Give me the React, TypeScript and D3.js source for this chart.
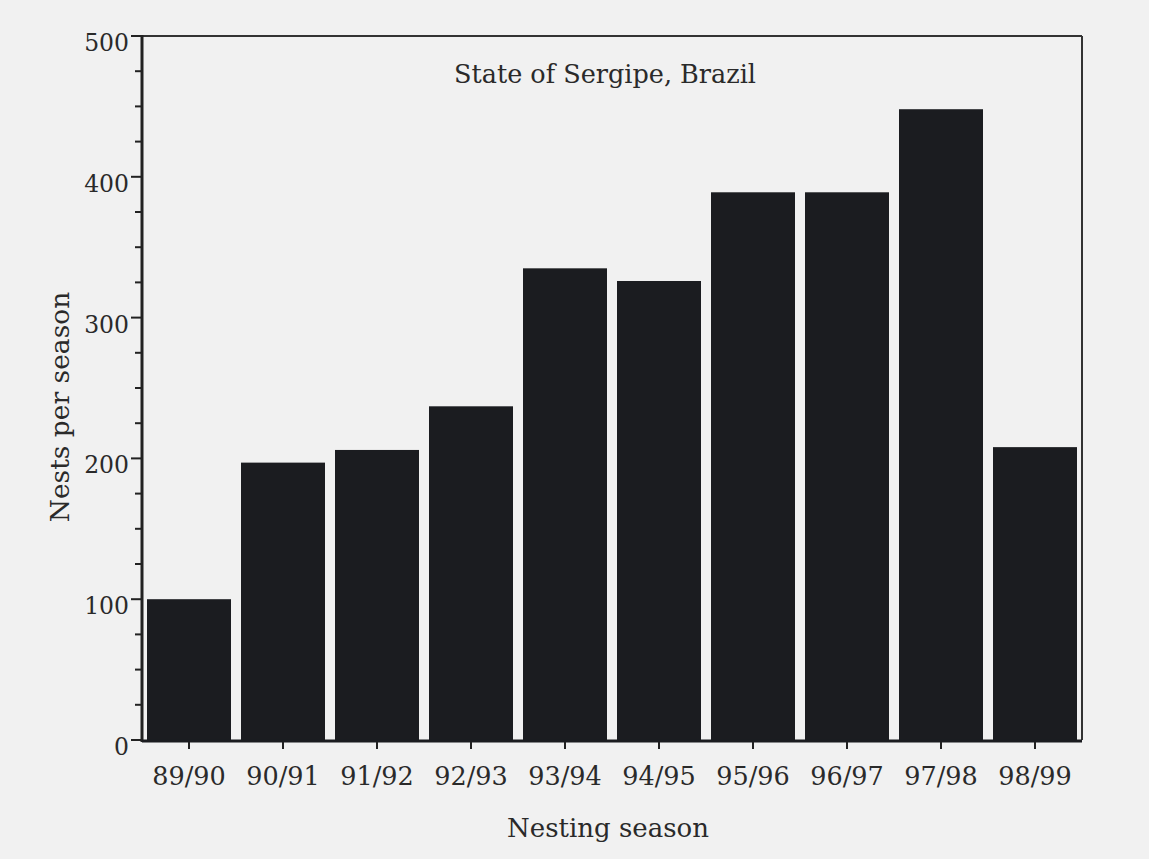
import React from "react";
import * as d3 from "d3";

const seasons = ["89/90", "90/91", "91/92", "92/93", "93/94", "94/95", "95/96", "96/97", "97/98", "98/99"];
const nests = [100, 197, 206, 237, 335, 326, 389, 389, 448, 208];
const yMajorTicks = [0, 100, 200, 300, 400, 500];
const yMinorTicks = d3.range(0, 501, 25).filter((v) => v % 100 !== 0);
const chartTitle = "State of Sergipe, Brazil";
const xTitle = "Nesting season";
const yTitle = "Nests per season";

const W = 1149;
const H = 859;
const left = 142;
const right = 1082;
const top = 36;
const bottom = 740;
const font = "'DejaVu Serif', serif";
const ink = "#2a2a2a";

export default function App() {
  const x = d3
    .scaleBand<string>()
    .domain(seasons)
    .range([left, right])
    .paddingInner(10 / 94)
    .paddingOuter(5 / 94);
  const y = d3.scaleLinear().domain([0, 500]).range([bottom, top]);

  return (
    <svg
      width={W}
      height={H}
      style={{ position: "absolute", left: 0, top: 0, display: "block" }}
    >
      <rect x={0} y={0} width={W} height={H} fill="#f1f1f1" />
      {seasons.map((s, i) => (
        <rect
          key={s}
          x={x(s)}
          y={y(nests[i])}
          width={x.bandwidth()}
          height={y(0) - y(nests[i])}
          fill="#1b1c20"
        />
      ))}
      {/* frame */}
      <line x1={left} x2={right} y1={top} y2={top} stroke="#333" strokeWidth={2} />
      <line x1={right} x2={right} y1={top} y2={bottom} stroke="#333" strokeWidth={2} />
      <line x1={left} x2={left} y1={top - 1} y2={bottom + 2} stroke="#222" strokeWidth={3} />
      <line x1={left} x2={right} y1={bottom + 1} y2={bottom + 1} stroke="#1b1c20" strokeWidth={3} />
      {/* y ticks */}
      {yMajorTicks.map((t) => (
        <g key={t}>
          <line x1={left - 11} x2={left} y1={y(t)} y2={y(t)} stroke="#222" strokeWidth={2} />
          <text
            x={129}
            y={y(t) + 15}
            textAnchor="end"
            fontFamily={font}
            fontSize={23.5}
            fill={ink}
          >
            {t}
          </text>
        </g>
      ))}
      {yMinorTicks.map((t) => (
        <line key={t} x1={left - 7} x2={left} y1={y(t)} y2={y(t)} stroke="#222" strokeWidth={2} />
      ))}
      {/* x ticks */}
      {seasons.map((s) => {
        const cx = (x(s) as number) + x.bandwidth() / 2;
        return (
          <g key={s}>
            <line x1={cx} x2={cx} y1={bottom + 2} y2={bottom + 9} stroke="#222" strokeWidth={2} />
            <text
              x={cx}
              y={785}
              textAnchor="middle"
              fontFamily={font}
              fontSize={25.5}
              fill={ink}
            >
              {s}
            </text>
          </g>
        );
      })}
      <text x={605} y={83} textAnchor="middle" fontFamily={font} fontSize={25.5} fill={ink}>
        {chartTitle}
      </text>
      <text x={608} y={837} textAnchor="middle" fontFamily={font} fontSize={26} fill={ink}>
        {xTitle}
      </text>
      <text
        transform={`translate(69, 407) rotate(-90)`}
        textAnchor="middle"
        fontFamily={font}
        fontSize={26.5}
        fill={ink}
      >
        {yTitle}
      </text>
    </svg>
  );
}
